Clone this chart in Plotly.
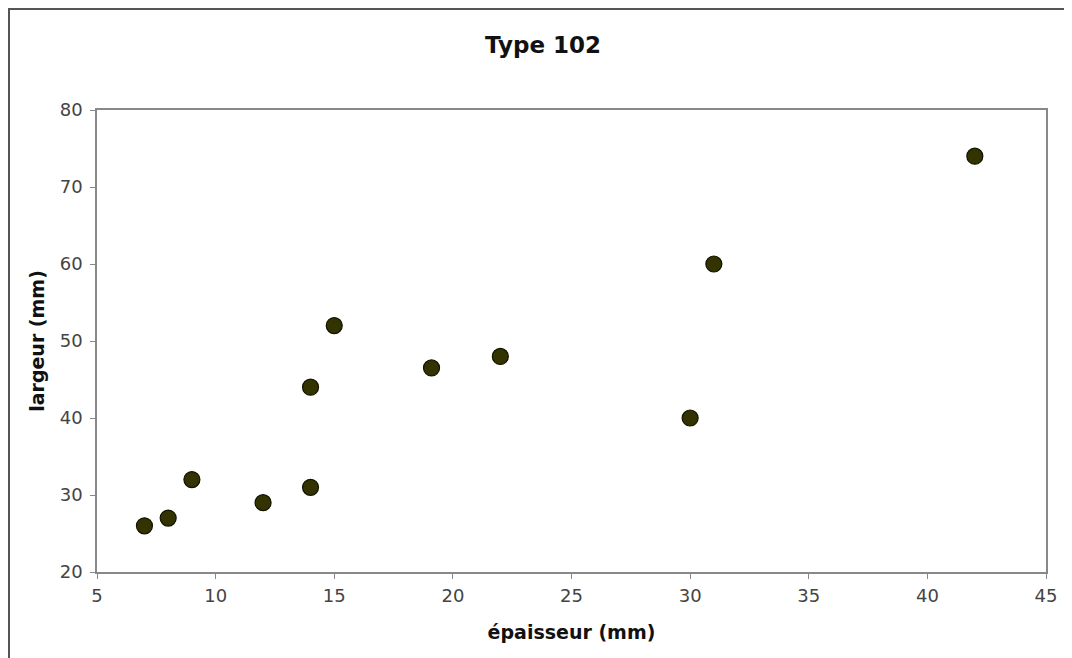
import plotly.graph_objects as go

epaisseur = [7, 8, 9, 12, 14, 14, 15, 19.1, 22, 30, 31, 42]
largeur = [26, 27, 32, 29, 31, 44, 52, 46.5, 48, 40, 60, 74]

x_ticks = [5, 10, 15, 20, 25, 30, 35, 40, 45]
y_ticks = [20, 30, 40, 50, 60, 70, 80]

FONT = "DejaVu Sans, Verdana, sans-serif"

W, H = 1072, 658
L, R, T, B = 89, 34, 102, 94
pw = W - L - R
ph = H - T - B

fig = go.Figure()
fig.add_trace(go.Scatter(
    x=epaisseur, y=largeur, mode="markers",
    marker=dict(size=16, color="#333300", line=dict(color="#111100", width=1.2)),
    showlegend=False,
))

fig.update_layout(
    width=W, height=H,
    margin=dict(l=L, r=R, t=T, b=B),
    paper_bgcolor="white", plot_bgcolor="white",
    font=dict(family=FONT, size=18, color="#444444"),
    title=dict(text="<b>Type 102</b>", x=(543 - 8 - L) / pw, xanchor="center",
               y=1 - 37 / H, yanchor="middle",
               xref="paper", font=dict(family=FONT, size=23, color="#111111")),
    xaxis=dict(
        range=[5, 45], tickvals=x_ticks, ticks="outside", ticklen=5, tickcolor="#888888",
        showgrid=False, zeroline=False, showline=True, linecolor="#888888", linewidth=1.5,
        mirror=True, ticklabelstandoff=2,
        title=dict(text="<b>épaisseur (mm)</b>", font=dict(family=FONT, size=19, color="#111111"), standoff=20),
        tickfont=dict(family=FONT, size=18, color="#444444"),
    ),
    yaxis=dict(
        range=[20, 80], tickvals=y_ticks, ticks="outside", ticklen=5, tickcolor="#888888",
        showgrid=False, zeroline=False, showline=True, linecolor="#888888", linewidth=1.5,
        mirror=True, ticklabelstandoff=4,
        title=dict(text="<b>largeur (mm)</b>", font=dict(family=FONT, size=19, color="#111111"), standoff=10),
        tickfont=dict(family=FONT, size=18, color="#444444"),
    ),
    shapes=[dict(type="rect", xref="paper", yref="paper",
                 x0=-L / pw + 1 / pw, x1=1.2, y0=-0.5, y1=1 + (T - 1) / ph,
                 line=dict(color="#555555", width=2), fillcolor="rgba(0,0,0,0)", layer="below")],
)

fig.write_html("out.html")
